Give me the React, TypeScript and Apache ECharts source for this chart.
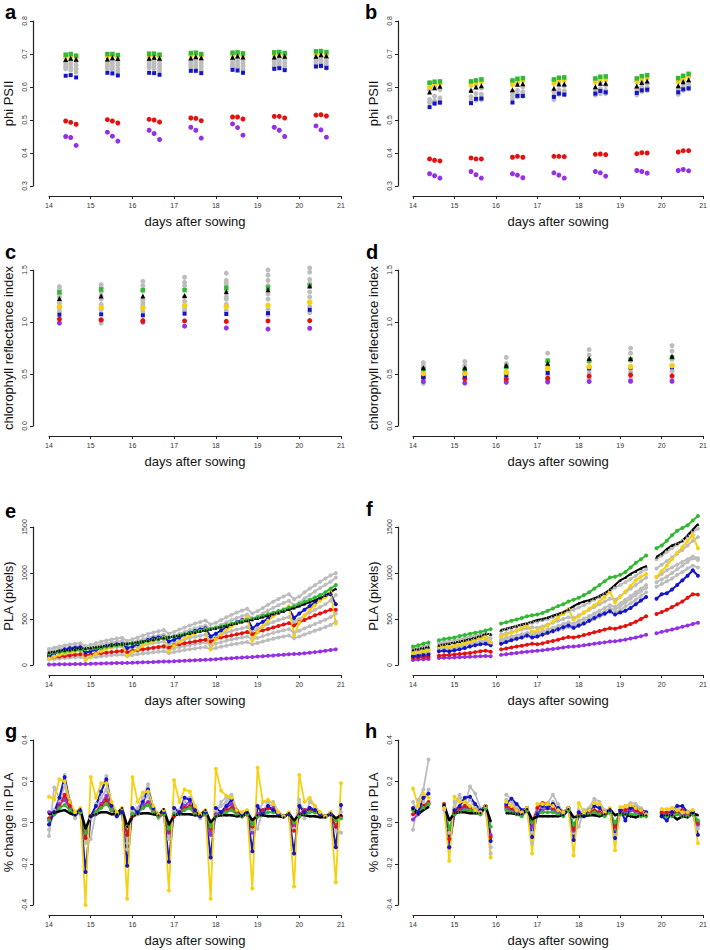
import React, { useEffect, useRef } from "react";
import * as echarts from "echarts";

const FONT = "Liberation Sans, Arial, Helvetica, sans-serif";
const COL = {
  grey: "#bdbdbd",
  green: "#33b833",
  black: "#000000",
  yellow: "#f5d10f",
  blue: "#1414c8",
  red: "#e3120f",
  purple: "#9430e6",
};

// ---------- panels a, b (phi PSII) ----------
const AB_TIMES = [14.4, 14.52, 14.65, 15.4, 15.52, 15.65, 16.4, 16.52, 16.65, 17.4, 17.52, 17.65, 18.4, 18.52, 18.65, 19.4, 19.52, 19.65, 20.4, 20.52, 20.65];
const A_GREEN = [0.698, 0.7, 0.695, 0.7, 0.7, 0.697, 0.701, 0.701, 0.698, 0.703, 0.704, 0.7, 0.704, 0.705, 0.702, 0.705, 0.706, 0.703, 0.708, 0.709, 0.706];
const A_YELLOW = [0.69, 0.693, 0.688, 0.692, 0.694, 0.69, 0.693, 0.695, 0.691, 0.695, 0.697, 0.693, 0.696, 0.699, 0.695, 0.697, 0.7, 0.696, 0.7, 0.702, 0.698];
const A_BLACK = [0.683, 0.687, 0.684, 0.685, 0.689, 0.686, 0.687, 0.69, 0.687, 0.688, 0.692, 0.689, 0.69, 0.694, 0.691, 0.691, 0.696, 0.693, 0.693, 0.698, 0.695];
const A_GREY1 = [0.675, 0.68, 0.677, 0.676, 0.681, 0.678, 0.678, 0.682, 0.679, 0.68, 0.684, 0.681, 0.682, 0.686, 0.683, 0.683, 0.688, 0.684, 0.685, 0.69, 0.686];
const A_GREY2 = [0.667, 0.67, 0.666, 0.668, 0.672, 0.668, 0.67, 0.673, 0.669, 0.672, 0.675, 0.671, 0.674, 0.677, 0.673, 0.675, 0.679, 0.674, 0.677, 0.681, 0.676];
const A_GREY3 = [0.66, 0.66, 0.655, 0.661, 0.662, 0.657, 0.663, 0.664, 0.659, 0.665, 0.666, 0.661, 0.667, 0.668, 0.663, 0.668, 0.67, 0.664, 0.67, 0.672, 0.666];
const A_GREY4 = [0.655, 0.651, 0.645, 0.656, 0.653, 0.647, 0.658, 0.655, 0.649, 0.66, 0.657, 0.651, 0.662, 0.659, 0.653, 0.663, 0.661, 0.655, 0.665, 0.663, 0.657];
const A_BLUE = [0.634, 0.636, 0.629, 0.643, 0.641, 0.635, 0.643, 0.642, 0.637, 0.649, 0.649, 0.642, 0.652, 0.65, 0.643, 0.655, 0.657, 0.651, 0.662, 0.664, 0.658];
const A_RED = [0.497, 0.493, 0.487, 0.501, 0.497, 0.491, 0.502, 0.5, 0.494, 0.506, 0.505, 0.498, 0.509, 0.509, 0.503, 0.511, 0.511, 0.506, 0.515, 0.516, 0.512];
const A_PURPLE = [0.45, 0.447, 0.423, 0.463, 0.451, 0.436, 0.469, 0.459, 0.441, 0.478, 0.469, 0.445, 0.488, 0.477, 0.454, 0.478, 0.469, 0.45, 0.482, 0.47, 0.448];

const B_GREEN = [0.613, 0.616, 0.617, 0.617, 0.62, 0.623, 0.62, 0.625, 0.627, 0.623, 0.628, 0.629, 0.626, 0.631, 0.632, 0.626, 0.633, 0.636, 0.627, 0.634, 0.64];
const B_YELLOW = [0.6, 0.608, 0.61, 0.605, 0.612, 0.615, 0.607, 0.617, 0.619, 0.611, 0.619, 0.62, 0.614, 0.622, 0.622, 0.615, 0.624, 0.627, 0.616, 0.625, 0.631];
const B_BLACK = [0.585, 0.598, 0.602, 0.59, 0.6, 0.604, 0.592, 0.608, 0.61, 0.596, 0.609, 0.609, 0.601, 0.611, 0.611, 0.603, 0.614, 0.618, 0.604, 0.616, 0.622];
const B_GREY1 = [0.612, 0.6, 0.592, 0.615, 0.605, 0.597, 0.617, 0.612, 0.6, 0.62, 0.613, 0.603, 0.622, 0.615, 0.605, 0.62, 0.616, 0.61, 0.62, 0.618, 0.614];
const B_GREY2 = [0.592, 0.572, 0.567, 0.588, 0.58, 0.578, 0.585, 0.59, 0.585, 0.585, 0.592, 0.588, 0.592, 0.595, 0.59, 0.595, 0.6, 0.598, 0.597, 0.603, 0.605];
const B_GREY3 = [0.562, 0.558, 0.557, 0.571, 0.565, 0.567, 0.575, 0.578, 0.578, 0.572, 0.584, 0.582, 0.583, 0.587, 0.586, 0.586, 0.592, 0.594, 0.59, 0.595, 0.598];
const B_GREY4 = [0.553, 0.55, 0.552, 0.558, 0.56, 0.562, 0.565, 0.57, 0.572, 0.562, 0.578, 0.577, 0.575, 0.58, 0.58, 0.576, 0.586, 0.589, 0.578, 0.59, 0.594];
const B_BLUE = [0.539, 0.55, 0.553, 0.551, 0.564, 0.565, 0.553, 0.573, 0.573, 0.57, 0.58, 0.577, 0.58, 0.588, 0.584, 0.582, 0.59, 0.592, 0.584, 0.593, 0.596];
const B_RED = [0.382, 0.378, 0.376, 0.385, 0.382, 0.382, 0.387, 0.39, 0.387, 0.39, 0.39, 0.389, 0.396, 0.397, 0.395, 0.398, 0.401, 0.4, 0.403, 0.407, 0.407];
const B_PURPLE = [0.337, 0.331, 0.324, 0.344, 0.334, 0.324, 0.337, 0.333, 0.325, 0.34, 0.333, 0.324, 0.344, 0.34, 0.33, 0.347, 0.344, 0.339, 0.347, 0.35, 0.346];

// ---------- panels c, d (chlorophyll reflectance index) ----------
const CD_TIMES = [14.25, 15.25, 16.25, 17.25, 18.25, 19.25, 20.25];
const C_GREEN = [1.285, 1.313, 1.307, 1.307, 1.33, 1.33, 1.35];
const C_BLACK = [1.227, 1.25, 1.25, 1.256, 1.29, 1.31, 1.346];
const C_YELLOW = [1.147, 1.14, 1.135, 1.16, 1.147, 1.16, 1.19];
const C_BLUE = [1.07, 1.074, 1.064, 1.08, 1.077, 1.085, 1.117];
const C_RED = [1.028, 1.02, 1.014, 1.01, 1.006, 1.01, 1.013];
const C_PURPLE = [0.99, 1.02, 1.0, 0.96, 0.942, 0.932, 0.94];
const C_GREY1 = [1.34, 1.36, 1.39, 1.43, 1.47, 1.5, 1.52];
const C_GREY2 = [1.31, 1.33, 1.35, 1.38, 1.4, 1.45, 1.48];
const C_GREY3 = [1.27, 1.29, 1.3, 1.35, 1.37, 1.4, 1.41];
const C_GREY4 = [1.24, 1.22, 1.21, 1.24, 1.24, 1.27, 1.29];
const C_GREY5 = [1.2, 1.17, 1.18, 1.15, 1.22, 1.22, 1.24];
const C_GREY6 = [1.13, 0.99, 1.1, 1.11, 1.11, 1.07, 1.09];
const C_GREY7 = [1.18, 1.25, 1.16, 1.2, 1.3, 1.35, 1.37];
const C_GREY8 = [1.1, 1.12, 1.14, 1.12, 1.17, 1.12, 1.15];

const D_GREEN = [0.547, 0.545, 0.57, 0.627, 0.63, 0.64, 0.66];
const D_BLACK = [0.56, 0.56, 0.585, 0.604, 0.65, 0.65, 0.67];
const D_YELLOW = [0.505, 0.505, 0.515, 0.553, 0.572, 0.57, 0.58];
const D_BLUE = [0.47, 0.48, 0.49, 0.51, 0.553, 0.56, 0.565];
const D_RED = [0.467, 0.457, 0.453, 0.46, 0.48, 0.49, 0.482];
const D_PURPLE = [0.427, 0.415, 0.42, 0.423, 0.427, 0.43, 0.43];
const D_GREY1 = [0.61, 0.62, 0.66, 0.7, 0.735, 0.748, 0.773];
const D_GREY2 = [0.58, 0.58, 0.6, 0.63, 0.68, 0.7, 0.72];
const D_GREY3 = [0.55, 0.54, 0.56, 0.58, 0.62, 0.63, 0.64];
const D_GREY4 = [0.5, 0.5, 0.52, 0.53, 0.56, 0.57, 0.58];
const D_GREY5 = [0.45, 0.45, 0.47, 0.49, 0.51, 0.52, 0.53];
const D_GREY6 = [0.41, 0.41, 0.43, 0.44, 0.45, 0.45, 0.46];

// ---------- panels e, f (PLA, pixels), sampled every 3 h ----------
const PLA_TIMES = Array.from({ length: 56 }, (_, k) => 14 + k / 8);
const E_BLACK = [138, 145, 152, 160, 166, 172, 178, 183, 188, 195, 202, 209, 216, 222, 228, 233, 240, 249, 258, 267, 276, 286, 295, 303, 312, 322, 333, 345, 356, 367, 378, 389, 400, 413, 427, 440, 453, 467, 480, 493, 506, 522, 538, 554, 570, 587, 603, 620, 640, 662, 684, 705, 728, 755, 790, 830];
const E_GREEN = [125, 132, 140, 148, 155, 160, 165, 170, 176, 183, 190, 198, 206, 213, 220, 226, 233, 242, 251, 261, 271, 281, 291, 300, 310, 322, 334, 346, 358, 370, 382, 394, 406, 420, 434, 448, 462, 476, 490, 504, 518, 535, 552, 569, 586, 604, 622, 640, 662, 686, 710, 734, 760, 790, 830, 870];
const E_BLUE = [100, 125, 150, 170, 182, 188, 192, 135, 150, 165, 185, 205, 218, 225, 228, 185, 200, 225, 250, 272, 290, 300, 305, 255, 275, 300, 330, 350, 370, 385, 400, 310, 340, 375, 410, 440, 465, 490, 510, 400, 440, 470, 505, 540, 565, 590, 615, 510, 560, 600, 640, 680, 720, 750, 770, 660];
const E_YELLOW = [70, 90, 110, 125, 140, 150, 160, 55, 90, 120, 150, 175, 195, 210, 220, 100, 140, 175, 210, 240, 262, 280, 300, 150, 210, 250, 290, 320, 345, 370, 390, 170, 280, 330, 380, 420, 450, 480, 520, 270, 360, 420, 480, 530, 570, 600, 640, 320, 460, 540, 600, 650, 700, 740, 790, 450];
const E_RED = [80, 86, 92, 98, 104, 110, 116, 108, 115, 122, 128, 134, 140, 146, 152, 140, 155, 164, 172, 180, 188, 196, 204, 188, 215, 226, 236, 246, 256, 266, 275, 255, 285, 298, 310, 322, 334, 346, 358, 335, 360, 376, 392, 408, 424, 440, 455, 430, 465, 490, 515, 540, 560, 580, 600, 600];
const E_PURPLE = [5, 6, 7, 8, 9, 10, 11, 12, 13, 15, 16, 18, 19, 21, 22, 23, 25, 27, 29, 31, 33, 35, 37, 38, 40, 43, 46, 49, 52, 55, 58, 60, 63, 67, 70, 74, 78, 81, 85, 88, 92, 96, 100, 104, 108, 112, 116, 119, 123, 128, 134, 140, 147, 154, 162, 170];
const E_GREY1 = [175, 188, 200, 212, 222, 230, 236, 205, 220, 236, 252, 266, 278, 288, 296, 262, 280, 300, 320, 338, 354, 368, 380, 340, 360, 385, 408, 430, 450, 468, 484, 440, 460, 490, 518, 545, 570, 592, 612, 560, 585, 620, 655, 688, 718, 745, 770, 715, 745, 790, 830, 868, 905, 940, 975, 1000];
const E_GREY2 = [150, 162, 174, 185, 194, 200, 205, 178, 192, 206, 220, 233, 244, 253, 260, 230, 245, 262, 280, 296, 310, 322, 332, 298, 315, 338, 360, 380, 398, 414, 428, 390, 410, 438, 464, 488, 510, 530, 548, 505, 528, 560, 592, 622, 650, 675, 698, 650, 680, 722, 762, 800, 838, 872, 905, 950];
const E_GREY3 = [120, 128, 136, 144, 150, 155, 160, 130, 150, 160, 170, 180, 188, 195, 200, 170, 190, 203, 216, 228, 238, 247, 254, 220, 245, 262, 278, 293, 306, 318, 328, 290, 310, 332, 352, 370, 386, 400, 412, 370, 395, 420, 445, 468, 488, 506, 522, 470, 500, 535, 570, 600, 630, 660, 700, 760];
const E_GREY4 = [90, 96, 102, 108, 113, 117, 121, 100, 112, 120, 128, 135, 141, 146, 150, 128, 142, 152, 162, 171, 179, 186, 192, 165, 182, 195, 207, 218, 228, 237, 245, 215, 232, 248, 263, 277, 289, 300, 310, 278, 295, 314, 332, 349, 364, 378, 390, 350, 372, 398, 422, 445, 468, 492, 520, 560];
const E_GREY5 = [60, 65, 70, 75, 80, 84, 88, 70, 82, 88, 94, 100, 105, 110, 114, 95, 108, 116, 124, 131, 138, 144, 149, 128, 142, 152, 162, 171, 180, 188, 195, 170, 185, 198, 210, 222, 232, 242, 251, 225, 240, 256, 271, 285, 298, 310, 320, 290, 310, 332, 352, 372, 392, 412, 435, 470];

const F_GREEN = [200, 215, 230, 245, null, 270, 282, 290, 300, 315, 325, 340, 350, 360, 375, 390, null, 450, 465, 480, 495, 510, 530, 540, 550, 565, 590, 615, 640, 660, 690, 710, 730, 760, 790, 830, 870, 910, 950, 960, 980, 1010, 1060, 1110, 1150, 1190, null, 1270, 1300, 1350, 1410, 1460, 1490, 1520, 1570, 1620];
const F_BLACK = [165, 175, 185, 195, null, 215, 225, 235, 245, 255, 268, 282, 296, 315, 340, 335, null, 380, 395, 410, 425, 440, 455, 470, 490, 500, 515, 535, 555, 575, 605, 640, 670, 690, 705, 725, 750, 780, 820, 870, 920, 950, 990, 1020, 1050, 1075, null, 1175, 1210, 1260, 1300, 1320, 1350, 1410, 1470, 1530];
const F_YELLOW = [130, 140, 150, 160, null, 200, 205, 195, 210, 225, 240, 255, 275, 290, 300, 245, null, 310, 330, 350, 375, 400, 430, 360, 375, 400, 430, 470, 520, 560, 610, 495, 530, 570, 610, 650, 690, 740, 800, 680, 740, 800, 860, 920, 960, 990, null, 960, 1020, 1080, 1150, 1220, 1280, 1350, 1410, 1270];
const F_BLUE = [95, 100, 110, 115, null, 150, 155, 148, 160, 170, 185, 200, 215, 225, 230, 215, null, 230, 250, 270, 285, 300, 320, 300, 310, 330, 350, 370, 390, 410, 430, 405, 430, 450, 480, 510, 540, 560, 585, 550, 570, 590, 620, 660, 700, 740, null, 720, 770, 780, 820, 870, 920, 970, 1030, 970];
const F_RED = [80, 85, 88, 90, null, 100, 105, 110, 115, 120, 125, 130, 140, 150, 155, 145, null, 170, 180, 190, 200, 210, 220, 230, 225, 235, 250, 262, 275, 290, 305, 300, 310, 325, 340, 355, 370, 385, 400, 395, 410, 425, 445, 470, 500, 530, null, 555, 575, 600, 630, 660, 690, 730, 770, 765];
const F_PURPLE = [55, 60, 62, 65, null, 75, 78, 80, 82, 85, 88, 90, 92, 95, 97, 96, null, 110, 118, 125, 130, 138, 145, 150, 155, 160, 168, 175, 182, 190, 198, 200, 207, 215, 222, 230, 238, 246, 255, 258, 266, 276, 288, 300, 312, 328, null, 345, 360, 372, 385, 400, 415, 430, 445, 460];
const F_GREY1 = [180, 190, 200, 210, null, 240, 250, 260, 270, 282, 295, 308, 320, 335, 345, 330, null, 370, 385, 400, 415, 430, 445, 460, 470, 485, 500, 520, 540, 560, 585, 600, 625, 650, 680, 710, 740, 770, 810, 840, 870, 900, 935, 970, 1010, 1040, null, 1150, 1190, 1230, 1270, 1310, 1350, 1400, 1450, 1480];
const F_GREY2 = [150, 160, 170, 175, null, 210, 218, 226, 235, 245, 258, 270, 285, 298, 310, 290, null, 330, 345, 360, 372, 385, 398, 410, 405, 420, 440, 460, 480, 500, 520, 510, 540, 570, 600, 630, 660, 690, 720, 710, 750, 790, 830, 870, 910, 950, null, 1050, 1090, 1130, 1170, 1210, 1250, 1300, 1350, 1390];
const F_GREY3 = [120, 128, 135, 140, null, 180, 186, 192, 200, 210, 220, 232, 245, 258, 268, 250, null, 280, 295, 310, 322, 335, 348, 360, 350, 365, 385, 405, 425, 445, 465, 450, 480, 505, 530, 560, 590, 620, 650, 630, 670, 710, 750, 790, 830, 870, null, 950, 990, 1030, 1060, 1090, 1120, 1150, 1180, 1160];
const F_GREY4 = [100, 106, 112, 118, null, 160, 165, 170, 178, 186, 195, 205, 216, 228, 238, 225, null, 250, 262, 275, 287, 300, 312, 325, 315, 330, 345, 360, 378, 395, 412, 400, 425, 450, 475, 500, 525, 550, 580, 565, 600, 635, 670, 710, 750, 790, null, 850, 880, 910, 940, 980, 1010, 1050, 1080, 1060];
const F_GREY5 = [110, 115, 120, 125, null, 170, 176, 182, 190, 200, 210, 222, 235, 245, 255, 240, null, 265, 280, 292, 305, 318, 330, 342, 335, 350, 365, 382, 400, 418, 436, 425, 450, 475, 500, 528, 556, 585, 615, 600, 640, 680, 720, 760, 800, 840, null, 900, 930, 960, 1000, 1040, 1080, 1120, 1160, 1140];

// ---------- panels g, h (% change in PLA) ----------
const CHG_TIMES = Array.from({ length: 57 }, (_, k) => 14 + k / 8);
const G_YELLOW = [0.125, 0.11, 0.21, 0.2, 0.1, 0.05, 0.07, -0.4, 0.22, 0.12, 0.19, 0.19, 0.1, 0.05, 0.07, -0.37, 0.22, 0.1, 0.145, 0.15, 0.08, 0.04, 0.06, -0.33, 0.205, 0.1, 0.16, 0.15, 0.08, 0.04, 0.06, -0.37, 0.26, 0.155, 0.13, 0.12, 0.06, 0.05, 0.06, -0.32, 0.265, 0.1, 0.11, 0.09, 0.05, 0.03, 0.05, -0.31, 0.23, 0.1, 0.12, 0.08, 0.05, 0.03, 0.05, -0.29, 0.19];
const G_BLUE = [-0.01, 0.05, 0.12, 0.22, 0.1, 0.04, 0.06, -0.24, 0.03, 0.08, 0.15, 0.21, 0.08, 0.03, 0.05, -0.21, 0.07, 0.05, 0.1, 0.16, 0.07, 0.04, 0.05, -0.19, 0.07, 0.05, 0.12, 0.11, 0.06, 0.03, 0.05, -0.17, 0.07, 0.05, 0.08, 0.11, 0.06, 0.04, 0.05, -0.14, 0.08, 0.04, 0.08, 0.06, 0.04, 0.03, 0.04, -0.15, 0.08, 0.05, 0.07, 0.06, 0.04, 0.03, 0.04, -0.12, 0.085];
const G_RED = [0.02, 0.04, 0.08, 0.135, 0.08, 0.04, 0.05, -0.075, 0.03, 0.05, 0.08, 0.11, 0.06, 0.04, 0.05, -0.06, 0.03, 0.05, 0.07, 0.09, 0.05, 0.03, 0.04, -0.04, 0.03, 0.05, 0.07, 0.08, 0.05, 0.03, 0.04, -0.03, 0.03, 0.04, 0.06, 0.07, 0.05, 0.03, 0.04, -0.02, 0.03, 0.06, 0.07, 0.06, 0.04, 0.03, 0.04, -0.04, 0.03, 0.06, 0.06, 0.05, 0.04, 0.03, 0.04, -0.02, 0.03];
const G_PURPLE = [0.05, 0.05, 0.09, 0.11, 0.07, 0.04, 0.05, -0.05, 0.03, 0.04, 0.09, 0.13, 0.06, 0.04, 0.05, -0.06, 0.04, 0.05, 0.08, 0.1, 0.06, 0.03, 0.04, -0.05, 0.04, 0.05, 0.08, 0.1, 0.05, 0.03, 0.04, -0.06, 0.04, 0.05, 0.07, 0.09, 0.05, 0.03, 0.04, -0.05, 0.04, 0.06, 0.07, 0.07, 0.04, 0.03, 0.04, -0.01, 0.04, 0.06, 0.07, 0.06, 0.04, 0.03, 0.04, -0.02, 0.03];
const G_GREEN = [0.01, 0.04, 0.07, 0.085, 0.06, 0.04, 0.05, -0.05, 0.03, 0.05, 0.07, 0.09, 0.06, 0.04, 0.05, -0.02, 0.04, 0.05, 0.07, 0.085, 0.05, 0.03, 0.04, -0.03, 0.04, 0.04, 0.06, 0.07, 0.04, 0.03, 0.04, -0.02, 0.03, 0.04, 0.05, 0.06, 0.04, 0.03, 0.04, -0.01, 0.03, 0.04, 0.05, 0.05, 0.04, 0.03, 0.04, 0.0, 0.03, 0.04, 0.05, 0.05, 0.04, 0.03, 0.04, 0.01, 0.02];
const G_BLACK = [0.04, 0.045, 0.055, 0.06, 0.045, 0.035, 0.065, -0.03, 0.03, 0.04, 0.05, 0.05, 0.04, 0.04, 0.07, -0.02, 0.03, 0.04, 0.045, 0.045, 0.04, 0.035, 0.065, -0.01, 0.035, 0.04, 0.04, 0.04, 0.035, 0.035, 0.06, 0.0, 0.03, 0.035, 0.035, 0.035, 0.03, 0.03, 0.05, 0.01, 0.035, 0.035, 0.03, 0.03, 0.03, 0.025, 0.045, 0.01, 0.04, 0.035, 0.03, 0.03, 0.025, 0.025, 0.045, 0.02, 0.035];
const G_GREY1 = [-0.065, 0.17, 0.12, 0.23, 0.08, 0.03, 0.05, -0.1, 0.02, 0.09, 0.15, 0.225, 0.07, 0.03, 0.05, -0.1, 0.05, 0.07, 0.12, 0.185, 0.07, 0.03, 0.05, -0.08, 0.05, 0.06, 0.12, 0.12, 0.06, 0.03, 0.05, -0.06, 0.04, 0.1, 0.12, 0.135, 0.06, 0.04, 0.05, -0.04, 0.03, 0.1, 0.1, 0.1, 0.05, 0.03, 0.04, -0.03, 0.11, 0.02, 0.1, 0.08, 0.04, 0.03, 0.04, -0.02, -0.05];
const G_GREY2 = [-0.035, 0.06, 0.1, 0.18, 0.07, 0.02, 0.06, -0.08, -0.08, 0.05, 0.12, 0.16, 0.06, 0.04, 0.05, -0.13, 0.06, 0.04, 0.1, 0.13, 0.06, 0.02, 0.04, -0.03, 0.06, 0.05, 0.1, 0.09, 0.05, 0.02, 0.04, -0.03, 0.06, 0.08, 0.1, 0.13, 0.05, 0.03, 0.05, -0.03, -0.03, 0.06, 0.09, 0.08, 0.05, 0.03, 0.04, -0.03, 0.09, 0.06, 0.07, 0.07, 0.04, 0.03, 0.05, -0.04, 0.05];

const H_YELLOW = [0.165, 0.08, 0.14, 0.12, null, null, 0.07, -0.185, 0.125, 0.1, 0.1, 0.08, 0.06, 0.05, 0.08, -0.17, null, null, 0.1, 0.08, 0.06, 0.05, 0.07, -0.15, 0.09, 0.09, 0.09, 0.08, 0.06, 0.05, 0.07, -0.16, 0.095, 0.05, 0.06, 0.095, 0.09, 0.05, 0.07, -0.135, 0.075, 0.08, 0.085, 0.07, 0.06, 0.04, null, null, 0.065, 0.065, 0.07, 0.06, 0.05, 0.05, 0.06, -0.1, null];
const H_BLUE = [0.07, 0.05, 0.12, 0.14, null, null, 0.08, -0.12, 0.06, 0.08, 0.12, 0.125, 0.09, 0.06, 0.08, -0.09, null, null, 0.09, 0.115, 0.09, 0.06, 0.07, -0.07, 0.04, 0.08, 0.07, 0.09, 0.07, 0.05, 0.07, -0.085, 0.05, 0.03, 0.06, 0.08, 0.07, 0.05, 0.06, -0.075, 0.06, 0.01, 0.07, 0.07, 0.06, 0.05, null, null, 0.03, 0.01, 0.05, 0.08, 0.08, 0.05, 0.05, -0.06, null];
const H_RED = [0.04, 0.05, 0.08, 0.1, null, null, 0.09, -0.08, 0.05, 0.07, 0.08, 0.07, 0.06, 0.05, 0.08, -0.07, null, null, 0.08, 0.07, 0.06, 0.05, 0.07, 0.0, 0.07, 0.095, 0.09, 0.07, 0.06, 0.05, 0.07, -0.03, 0.04, 0.04, 0.05, 0.06, 0.05, 0.04, 0.06, -0.02, 0.06, 0.06, 0.07, 0.06, 0.05, 0.04, null, null, 0.05, 0.05, 0.05, 0.05, 0.06, 0.04, 0.05, 0.0, null];
const H_PURPLE = [0.015, 0.04, 0.08, 0.09, null, null, 0.08, -0.12, 0.04, 0.06, 0.07, 0.06, 0.05, 0.04, 0.08, -0.06, null, null, 0.07, 0.06, 0.05, 0.04, 0.06, -0.02, 0.05, 0.06, 0.07, 0.06, 0.05, 0.04, 0.06, -0.04, 0.03, 0.04, 0.05, 0.05, 0.05, 0.04, 0.06, -0.02, 0.05, 0.05, 0.06, 0.05, 0.04, 0.04, null, null, 0.04, 0.04, 0.04, 0.05, 0.04, 0.03, 0.04, -0.01, null];
const H_GREEN = [0.06, 0.05, 0.07, 0.09, null, null, 0.08, -0.03, 0.04, 0.05, 0.06, 0.06, 0.05, 0.04, 0.07, -0.02, null, null, 0.06, 0.05, 0.04, 0.03, 0.06, 0.0, 0.04, 0.05, 0.05, 0.05, 0.04, 0.03, 0.06, -0.01, 0.03, 0.04, 0.04, 0.05, 0.04, 0.03, 0.05, 0.0, 0.04, 0.04, 0.04, 0.04, 0.03, 0.03, null, null, 0.03, 0.03, 0.03, 0.04, 0.03, 0.03, 0.04, 0.01, null];
const H_BLACK = [0.065, 0.04, 0.06, 0.075, null, null, 0.085, 0.01, 0.045, 0.05, 0.05, 0.045, 0.045, 0.045, 0.08, 0.005, null, null, 0.045, 0.045, 0.04, 0.04, 0.065, 0.015, 0.03, 0.03, 0.03, 0.03, 0.03, 0.035, 0.065, 0.025, 0.03, 0.03, 0.035, 0.035, 0.03, 0.04, 0.065, 0.035, 0.045, 0.04, 0.03, 0.025, 0.035, 0.035, null, null, 0.035, 0.035, 0.035, 0.015, 0.03, 0.025, 0.045, 0.035, null];
const H_GREY1 = [-0.035, 0.11, 0.16, 0.305, null, null, 0.07, -0.08, 0.07, 0.135, 0.09, 0.175, 0.14, 0.07, 0.07, -0.15, null, null, 0.135, 0.115, 0.07, 0.05, 0.06, -0.1, 0.06, 0.08, 0.095, 0.135, 0.09, 0.05, 0.07, -0.05, -0.02, 0.06, 0.07, 0.115, 0.1, 0.06, 0.06, -0.08, 0.05, 0.08, 0.095, 0.09, 0.07, 0.05, null, null, 0.06, 0.04, 0.07, 0.08, 0.06, 0.05, 0.06, -0.03, null];
const H_GREY2 = [0.1, 0.04, 0.1, 0.16, null, null, 0.06, -0.05, 0.1, 0.12, 0.08, 0.11, 0.07, 0.05, 0.07, -0.12, null, null, 0.11, 0.1, 0.06, 0.05, 0.06, -0.05, 0.05, 0.07, 0.07, 0.1, 0.08, 0.05, 0.06, -0.03, 0.06, 0.04, 0.05, 0.1, 0.08, 0.05, 0.05, -0.06, 0.04, 0.06, 0.08, 0.08, 0.06, 0.05, null, null, 0.05, 0.05, 0.06, 0.07, 0.05, 0.04, 0.05, -0.02, null];

// ---------- layout ----------
const GRIDS = [
  { left: 49, top: 21, width: 292, height: 165, yOff: 16 },
  { left: 413, top: 21, width: 291, height: 165, yOff: 15 },
  { left: 49, top: 270, width: 292, height: 156, yOff: 16 },
  { left: 413, top: 270, width: 291, height: 156, yOff: 15 },
  { left: 49, top: 527, width: 292, height: 138, yOff: 16 },
  { left: 413, top: 527, width: 291, height: 138, yOff: 15 },
  { left: 49, top: 740, width: 292, height: 165, yOff: 16 },
  { left: 413, top: 740, width: 291, height: 165, yOff: 15 },
];
const Y_NAMES = ["phi PSII", "phi PSII", "chlorophyll reflectance index", "chlorophyll reflectance index", "PLA (pixels)", "PLA (pixels)", "% change in PLA", "% change in PLA"];
const Y_RANGES = [
  [0.3, 0.8, 0.1], [0.3, 0.8, 0.1], [0, 1.5, 0.5], [0, 1.5, 0.5],
  [0, 1500, 500], [0, 1500, 500], [-0.4, 0.4, 0.2], [-0.4, 0.4, 0.2],
];
const LETTERS = ["a", "b", "c", "d", "e", "f", "g", "h"];
const LETTER_POS = [[5, 22], [365, 22], [5, 262], [366, 262], [5, 521], [366, 519], [5, 741], [365, 741]];

const pairs = (xs: number[], ys: (number | null)[]) => ys.map((y, i) => [xs[i], y]);

function scatter(gi: number, xs: number[], ys: number[], color: string, symbol = "circle", size = 5) {
  return {
    type: "scatter", xAxisIndex: gi, yAxisIndex: gi, data: pairs(xs, ys), clip: false,
    symbol, symbolSize: size, itemStyle: { color, opacity: 1 }, silent: true,
  };
}
function line(gi: number, xs: number[], ys: (number | null)[], color: string, width = 2, size = 4, symbol = "circle") {
  return {
    type: "line", xAxisIndex: gi, yAxisIndex: gi, data: pairs(xs, ys), clip: false,
    symbol, symbolSize: size, showSymbol: size > 0, connectNulls: false,
    lineStyle: { color, width }, itemStyle: { color }, silent: true,
  };
}

function buildOption() {
  const series: any[] = [];
  // a & b
  const abSets = [
    [A_GREY1, A_GREY2, A_GREY3, A_GREY4, A_PURPLE, A_RED, A_BLUE, A_YELLOW, A_GREEN, A_BLACK],
    [B_GREY1, B_GREY2, B_GREY3, B_GREY4, B_PURPLE, B_RED, B_BLUE, B_YELLOW, B_GREEN, B_BLACK],
  ];
  abSets.forEach((s, gi) => {
    for (let i = 0; i < 4; i++) series.push(scatter(gi, AB_TIMES, s[i], COL.grey, "circle", 5));
    series.push(scatter(gi, AB_TIMES, s[4], COL.purple, "circle", 5));
    series.push(scatter(gi, AB_TIMES, s[5], COL.red, "circle", 5));
    series.push(scatter(gi, AB_TIMES, s[6], COL.blue, "rect", 4));
    series.push(scatter(gi, AB_TIMES, s[7], COL.yellow, "circle", 5));
    series.push(scatter(gi, AB_TIMES, s[8], COL.green, "rect", 4.5));
    series.push(scatter(gi, AB_TIMES, s[9], COL.black, "triangle", 5));
  });
  // c & d
  [C_GREY1, C_GREY2, C_GREY3, C_GREY4, C_GREY5, C_GREY6, C_GREY7, C_GREY8].forEach((g) => series.push(scatter(2, CD_TIMES, g, COL.grey, "circle", 5)));
  series.push(scatter(2, CD_TIMES, C_PURPLE, COL.purple, "circle", 5));
  series.push(scatter(2, CD_TIMES, C_RED, COL.red, "circle", 5));
  series.push(scatter(2, CD_TIMES, C_BLUE, COL.blue, "rect", 4));
  series.push(scatter(2, CD_TIMES, C_YELLOW, COL.yellow, "circle", 5.5));
  series.push(scatter(2, CD_TIMES, C_GREEN, COL.green, "rect", 4.5));
  series.push(scatter(2, CD_TIMES, C_BLACK, COL.black, "triangle", 5));
  [D_GREY1, D_GREY2, D_GREY3, D_GREY4, D_GREY5, D_GREY6].forEach((g) => series.push(scatter(3, CD_TIMES, g, COL.grey, "circle", 5)));
  series.push(scatter(3, CD_TIMES, D_PURPLE, COL.purple, "circle", 5));
  series.push(scatter(3, CD_TIMES, D_RED, COL.red, "circle", 5));
  series.push(scatter(3, CD_TIMES, D_BLUE, COL.blue, "rect", 4));
  series.push(scatter(3, CD_TIMES, D_YELLOW, COL.yellow, "circle", 5.5));
  series.push(scatter(3, CD_TIMES, D_GREEN, COL.green, "rect", 4.5));
  series.push(scatter(3, CD_TIMES, D_BLACK, COL.black, "triangle", 5));
  // e & f
  const efSets = [
    [[E_GREY1, E_GREY2, E_GREY3, E_GREY4, E_GREY5], E_PURPLE, E_RED, E_BLUE, E_YELLOW, E_GREEN, E_BLACK],
    [[F_GREY1, F_GREY2, F_GREY3, F_GREY4, F_GREY5], F_PURPLE, F_RED, F_BLUE, F_YELLOW, F_GREEN, F_BLACK],
  ] as any[];
  efSets.forEach((s, k) => {
    const gi = 4 + k;
    s[0].forEach((g: number[]) => series.push(line(gi, PLA_TIMES, g, COL.grey, 2, 4)));
    series.push(line(gi, PLA_TIMES, s[1], COL.purple, 2, 4));
    series.push(line(gi, PLA_TIMES, s[2], COL.red, 2, 4));
    series.push(line(gi, PLA_TIMES, s[3], COL.blue, 2, 4));
    series.push(line(gi, PLA_TIMES, s[4], COL.yellow, 2, 4));
    series.push(line(gi, PLA_TIMES, s[5], COL.green, 2, 4));
    series.push(line(gi, PLA_TIMES, s[6], COL.black, 2, 3, "triangle"));
  });
  // g & h
  const ghSets = [
    [[G_GREY1, G_GREY2], G_PURPLE, G_RED, G_GREEN, G_BLUE, G_YELLOW, G_BLACK],
    [[H_GREY1, H_GREY2], H_PURPLE, H_RED, H_GREEN, H_BLUE, H_YELLOW, H_BLACK],
  ] as any[];
  ghSets.forEach((s, k) => {
    const gi = 6 + k;
    s[0].forEach((g: number[]) => series.push(line(gi, CHG_TIMES, g, COL.grey, 1.8, 4)));
    series.push(line(gi, CHG_TIMES, s[1], COL.purple, 2, 4));
    series.push(line(gi, CHG_TIMES, s[2], COL.red, 2, 4));
    series.push(line(gi, CHG_TIMES, s[3], COL.green, 2, 4));
    series.push(line(gi, CHG_TIMES, s[4], COL.blue, 2, 4));
    series.push(line(gi, CHG_TIMES, s[5], COL.yellow, 1.8, 4));
    series.push(line(gi, CHG_TIMES, s[6], COL.black, 2.5, 2));
  });

  const axisLine = { show: true, onZero: false, lineStyle: { color: "#222", width: 1.2 } };
  const axisTick = { show: true, length: 3, lineStyle: { color: "#222", width: 1 } };

  return {
    animation: false,
    textStyle: { fontFamily: FONT },
    grid: GRIDS.map((g) => ({ left: g.left, top: g.top, width: g.width, height: g.height, containLabel: false })),
    xAxis: GRIDS.map((g, i) => ({
      gridIndex: i, type: "value", min: 14, max: 21, interval: 1, offset: 10,
      axisLine, axisTick, splitLine: { show: false },
      axisLabel: { fontSize: 7, color: "#333", margin: 6, fontFamily: FONT },
      name: "days after sowing", nameLocation: "middle", nameGap: 19,
      nameTextStyle: { fontSize: 13, color: "#111", fontFamily: FONT },
    })),
    yAxis: GRIDS.map((g, i) => {
      const [mn, mx, iv] = Y_RANGES[i];
      const dec = iv >= 100 ? 0 : 1;
      return {
        gridIndex: i, type: "value", min: mn, max: mx, interval: iv, offset: g.yOff,
        axisLine, axisTick, splitLine: { show: false },
        axisLabel: { fontSize: 7, color: "#333", margin: 5, rotate: 90, fontFamily: FONT, formatter: (v: number) => v.toFixed(dec) },
        name: Y_NAMES[i], nameLocation: "middle", nameGap: 18,
        nameTextStyle: { fontSize: 13, color: "#111", fontFamily: FONT },
      };
    }),
    graphic: LETTERS.map((t, i) => ({
      type: "text", x: LETTER_POS[i][0], y: LETTER_POS[i][1],
      style: { text: t, fontSize: 20, fontWeight: "bold", fontFamily: FONT, fill: "#000", verticalAlign: "bottom", align: "left" },
    })),
    series,
  };
}

export default function App() {
  const ref = useRef<HTMLDivElement>(null);
  useEffect(() => {
    document.body.style.margin = "0";
    if (!ref.current) return;
    const chart = echarts.init(ref.current, undefined, { renderer: "svg" });
    chart.setOption(buildOption() as any);
    return () => chart.dispose();
  }, []);
  return <div ref={ref} style={{ position: "absolute", left: 0, top: 0, width: 710, height: 950, background: "#fff" }} />;
}
